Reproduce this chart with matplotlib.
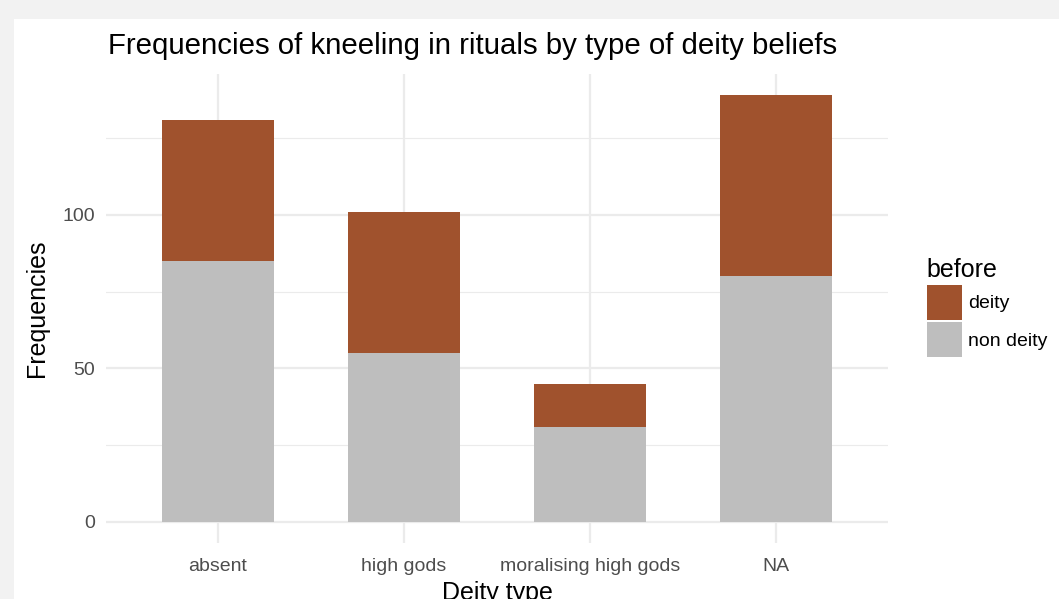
import numpy as np
import matplotlib
matplotlib.use("Agg")
import matplotlib.pyplot as plt
from matplotlib.patches import Rectangle, Patch

# data
categories = ["absent", "high gods", "moralising high gods", "NA"]
non_deity = [85, 55, 31, 80]
deity = [46, 46, 14, 59]
legend_title = "before"
series_names = ["deity", "non deity"]

col_deity = "#A0522D"
col_non = "#BEBEBE"
grid_col = "#EBEBEB"

plt.rcParams["font.family"] = ["Liberation Sans", "DejaVu Sans"]

fig = plt.figure(figsize=(10.59, 5.99), dpi=100)
fig.patch.set_facecolor("#F2F2F2")
# white card of the screenshot
fig.patches.append(Rectangle((14 / 1059, 0), 1, 1 - 19 / 599, transform=fig.transFigure,
                             facecolor="white", edgecolor="none", zorder=-10))

ax = fig.add_axes([106.4 / 1059, 1 - 543 / 599, (887.6 - 106.4) / 1059, (543 - 73.8) / 599])
ax.set_facecolor("none")

x = np.arange(1, len(categories) + 1)
totals = np.array(non_deity) + np.array(deity)
ax.bar(x, non_deity, width=0.6, color=col_non, zorder=3)
ax.bar(x, deity, bottom=non_deity, width=0.6, color=col_deity, zorder=3)

ymax = totals.max()
ax.set_xlim(0.4, len(categories) + 0.6)
ax.set_ylim(-0.05 * ymax, ymax * 1.05)

ax.set_yticks([0, 50, 100])
ax.set_yticks([25, 75, 125], minor=True)
ax.set_xticks(x)
ax.set_xticklabels(categories)
ax.grid(which="major", color=grid_col, linewidth=1.6, zorder=0)
ax.grid(which="minor", axis="y", color=grid_col, linewidth=0.8, zorder=0)
ax.tick_params(which="both", length=0, labelsize=14, labelcolor="#4D4D4D")
ax.tick_params(axis="x", pad=11)
ax.tick_params(axis="y", pad=8)
for s in ax.spines.values():
    s.set_visible(False)

ax.set_xlabel("Deity type", fontsize=18, labelpad=4)
ax.set_ylabel("Frequencies", fontsize=18, labelpad=10)
fig.text(108 / 1059, 1 - 46 / 599, "Frequencies of kneeling in rituals by type of deity beliefs",
         fontsize=21.2, va="center", ha="left")

handles = [Patch(facecolor=col_deity, edgecolor="none"),
           Patch(facecolor=col_non, edgecolor="none")]
leg = fig.legend(handles, series_names, title=legend_title, loc="upper left",
                 bbox_to_anchor=(909 / 1059, 1 - 241 / 599), frameon=False,
                 fontsize=14, title_fontsize=18, handlelength=1.85, handleheight=2.4,
                 labelspacing=0.12, handletextpad=0.3, alignment="left")

fig.savefig("out.png", dpi=100)
